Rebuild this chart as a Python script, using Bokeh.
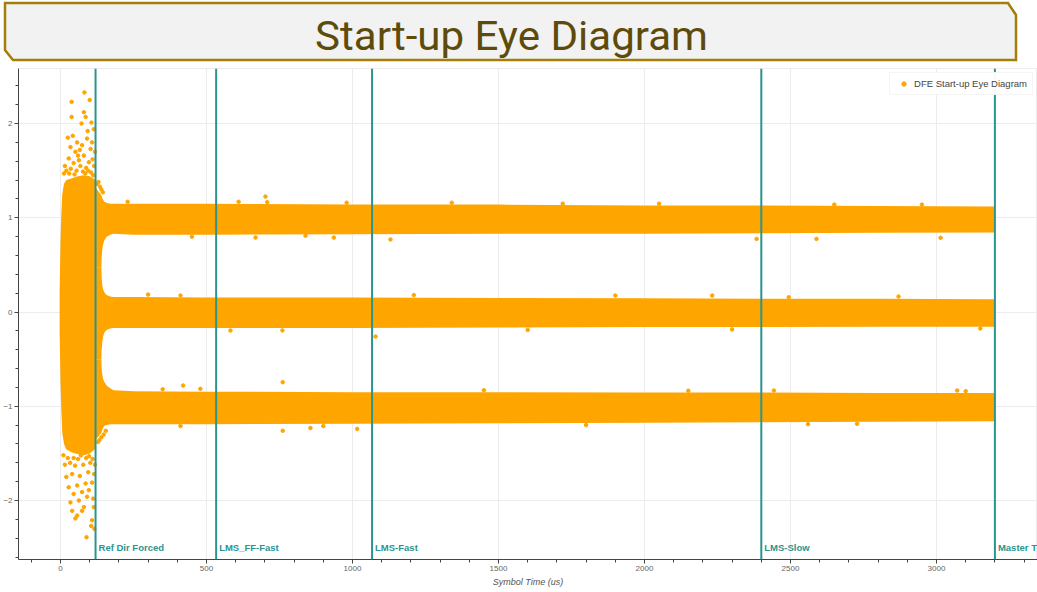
from bokeh.plotting import figure
from bokeh.models import Div, Span, Label, Range1d, SingleIntervalTicker
from bokeh.layouts import column
from bokeh.embed import file_html
from bokeh.resources import INLINE

TITLE = "Start-up Eye Diagram"
SERIES_NAME = "DFE Start-up Eye Diagram"
X_LABEL = "Symbol Time (us)"

# Training-phase markers (symbol time, us)
EVENT_TIMES = [120, 533, 1067, 2400, 3200]
EVENT_LABELS = ["Ref Dir Forced", "LMS_FF-Fast", "LMS-Fast", "LMS-Slow", "Master T"]

# Start-up (unconverged) cloud envelope
START_T = [-3, 0, 3, 6, 12, 20, 40, 60, 80, 100, 120]
START_HI = [0.2, 0.75, 1.05, 1.25, 1.36, 1.40, 1.42, 1.44, 1.45, 1.44, 1.40]
START_LO = [-0.2, -0.75, -1.05, -1.28, -1.40, -1.46, -1.49, -1.51, -1.52, -1.50, -1.45]

# Converged symbol bands (envelopes)
BAND_T = [120, 140, 141, 143, 146, 150, 158, 170, 182, 250, 500, 1000, 1500, 2000, 2400, 2800, 3200]
TOP_HI = [1.32, 1.24, 1.23, 1.21, 1.19, 1.17, 1.16, 1.15, 1.15, 1.15, 1.15, 1.14, 1.14, 1.13, 1.13, 1.125, 1.12]
TOP_LO = [0.475, 0.475, 0.58, 0.66, 0.72, 0.76, 0.80, 0.82, 0.83, 0.82, 0.82, 0.825, 0.83, 0.83, 0.835, 0.84, 0.845]
MID_HI = [0.475, 0.475, 0.37, 0.29, 0.24, 0.21, 0.18, 0.165, 0.16, 0.16, 0.155, 0.155, 0.15, 0.145, 0.14, 0.14, 0.135]
MID_LO = [-0.5, -0.5, -0.40, -0.32, -0.26, -0.22, -0.19, -0.175, -0.17, -0.17, -0.17, -0.17, -0.165, -0.16, -0.16, -0.155, -0.155]
BOT_HI = [-0.5, -0.5, -0.60, -0.66, -0.71, -0.74, -0.78, -0.81, -0.83, -0.84, -0.845, -0.85, -0.85, -0.855, -0.855, -0.86, -0.86]
BOT_LO = [-1.36, -1.28, -1.27, -1.25, -1.23, -1.21, -1.20, -1.19, -1.19, -1.19, -1.19, -1.185, -1.18, -1.175, -1.17, -1.165, -1.16]

# Individual samples visible outside the dense envelopes
PTS_T = [82, 38, 100, 38, 80, 86, 106, 72, 114, 25, 42, 57, 91, 34, 74, 103, 51, 80, 28, 63,
         97, 110, 45, 15, 68, 88, 115, 20, 35, 55, 77, 95, 105, 60, 118, 12, 30, 48, 85, 112,
         93, 66, 108,
         89, 51, 57, 105, 108, 40, 74, 80, 34, 63, 91, 114, 45, 74, 97, 28, 57, 86, 108, 20,
         40, 66, 95, 115, 15, 33, 50, 78, 102, 118, 25, 45, 60, 88, 110, 10, 70, 98, 116, 112,
         125, 130, 135, 140, 145, 128, 133, 140, 148, 155,
         702, 708, 668, 450, 839, 936, 1130, 411, 1079, 582, 420, 761, 479, 761, 856, 1016, 411,
         2589, 3014, 2232, 2494, 2728, 2443, 3071, 2384,
         230, 610, 980, 1340, 1720, 2050, 2650, 2950,
         300, 760, 1210, 1600, 1900, 2300, 2870, 3150,
         350, 900, 1450, 1800, 2150, 2560, 3100]
PTS_V = [2.33, 2.23, 2.25, 2.07, 2.12, 2.07, 2.01, 2.0, 1.94, 1.85, 1.87, 1.80, 1.84, 1.75, 1.77, 1.73, 1.70, 1.66, 1.63, 1.61,
         1.59, 1.62, 1.58, 1.55, 1.55, 1.53, 1.55, 1.50, 1.52, 1.50, 1.49, 1.50, 1.48, 1.66, 1.70, 1.47, 1.47, 1.46, 1.47, 1.45,
         1.92, 1.72, 1.80,
         -2.39, -2.19, -2.16, -2.27, -2.21, -2.11, -2.11, -2.07, -2.02, -2.0, -1.96, -2.07, -1.93, -1.91, -1.89, -1.86, -1.84, -1.82, -1.81, -1.75,
         -1.72, -1.74, -1.70, -1.72, -1.62, -1.60, -1.63, -1.62, -1.60, -1.62, -1.55, -1.55, -1.56, -1.55, -1.56, -1.52, -1.52, -1.53, -2.30, -1.98,
         1.36, 1.38, 1.33, 1.30, 1.27, -1.38, -1.36, -1.33, -1.30, -1.26,
         1.225, 1.165, 0.79, 0.80, 0.81, 0.79, 0.77, 0.175, -0.26, -0.196, -0.78, -0.745, -0.815, -1.26, -1.23, -1.24, -1.21,
         0.776, 0.787, 0.175, 0.157, -1.186, -0.833, -0.833, 0.776,
         1.17, 1.17, 1.16, 1.16, 1.15, 1.15, 1.14, 1.14,
         0.185, -0.195, 0.18, -0.19, 0.175, -0.185, 0.165, -0.175,
         -0.82, -1.21, -0.83, -1.20, -0.835, -1.19, -0.84]

ORANGE = "#FFA500"
TEAL = "#2a9590"

title_svg = (
    '<svg width="1037" height="64" xmlns="http://www.w3.org/2000/svg">'
    '<polygon points="5,3 1008,3 1016,15 1016,60 13,60 5,50" fill="#f2f2f2" '
    'stroke="#a37f0a" stroke-width="2.5"/>'
    '<text x="511.5" y="50" text-anchor="middle" '
    'style="font-family:\'Roboto\',sans-serif;font-weight:400;font-size:41px" '
    'fill="#5e4b0b" textLength="393" lengthAdjust="spacingAndGlyphs">' + TITLE + '</text>'
    '</svg>'
)
title_div = Div(text=title_svg, width=1037, height=64, styles={"margin": "0", "padding": "0"})

FRAME_LEFT_PX = 18
X0_PX = 60
PX_PER_US = 0.292
p = figure(width=1037, height=526, output_backend="svg", toolbar_location=None,
           x_range=Range1d((FRAME_LEFT_PX - X0_PX) / PX_PER_US, (1037 - X0_PX) / PX_PER_US),
           y_range=Range1d(-2.626, 2.584),
           min_border_left=13, min_border_right=0, min_border_top=4, min_border_bottom=31)

p.varea(x=START_T, y1=START_LO, y2=START_HI, fill_color=ORANGE)
for lo, hi in ((TOP_LO, TOP_HI), (MID_LO, MID_HI), (BOT_LO, BOT_HI)):
    p.varea(x=BAND_T, y1=lo, y2=hi, fill_color=ORANGE)
p.scatter(PTS_T, PTS_V, size=3.5, color=ORANGE, legend_label=SERIES_NAME)

for t, lab in zip(EVENT_TIMES, EVENT_LABELS):
    p.add_layout(Span(location=t, dimension="height", line_color=TEAL, line_width=2))
    p.add_layout(Label(x=t, y=-2.5, x_offset=3, text=lab, text_color=TEAL,
                       text_font_size="9.5px", text_font_style="bold", text_baseline="middle"))

p.xaxis.ticker = SingleIntervalTicker(interval=500, num_minor_ticks=5)
p.yaxis.ticker = SingleIntervalTicker(interval=1, num_minor_ticks=5)
p.xaxis.axis_label = X_LABEL
p.xaxis.axis_label_text_font_style = "italic"
p.xaxis.axis_label_text_font_size = "9px"
p.xaxis.axis_label_text_color = "#555555"
p.xaxis.axis_label_standoff = 3
p.axis.major_label_text_font_size = "8px"
p.axis.major_label_text_color = "#666666"
p.axis.major_label_standoff = 2
p.axis.major_tick_in = 0
p.axis.major_tick_out = 4
p.axis.minor_tick_in = 0
p.axis.minor_tick_out = 3
p.axis.axis_line_color = "#444444"
p.axis.major_tick_line_color = "#444444"
p.axis.minor_tick_line_color = "#444444"
p.grid.grid_line_color = "#ececec"
p.outline_line_color = "#ececec"

p.legend.location = "top_right"
p.legend.margin = 4
p.legend.padding = 5
p.legend.label_standoff = 2
p.legend.label_text_font_size = "9.5px"
p.legend.label_text_color = "#444444"
p.legend.glyph_width = 17
p.legend.glyph_height = 11
p.legend.border_line_color = "#ececec"

layout = column(title_div, p, spacing=0)
open("out.html", "w").write(file_html(layout, INLINE))
